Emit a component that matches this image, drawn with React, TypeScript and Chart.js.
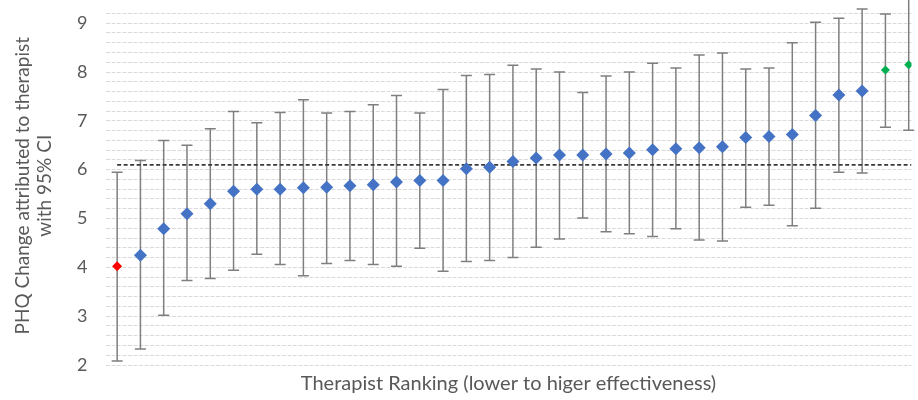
import React, { useEffect, useRef } from 'react';
import { Chart, registerables } from 'chart.js';

Chart.register(...registerables);

// Therapist rank (category position)
const ranks = [
  1, 2, 3, 4, 5, 6, 7, 8, 9, 10, 11, 12, 13, 14, 15, 16, 17, 18,
  19, 20, 21, 22, 23, 24, 25, 26, 27, 28, 29, 30, 31, 32, 33, 34, 35,
];

// PHQ change attributed to therapist (point estimate)
const means = [
  4.02, 4.25, 4.79, 5.1, 5.3, 5.56, 5.6, 5.6, 5.63, 5.64, 5.67, 5.69, 5.75,
  5.78, 5.78, 6.02, 6.05, 6.17, 6.24, 6.3, 6.3, 6.32, 6.34, 6.41, 6.43, 6.45,
  6.47, 6.66, 6.68, 6.72, 7.11, 7.53, 7.61, 8.04, 8.15,
];

// 95% CI upper bounds
const upperCI = [
  5.95, 6.19, 6.6, 6.5, 6.84, 7.19, 6.96, 7.17, 7.43, 7.16, 7.19, 7.33, 7.52,
  7.16, 7.64, 7.93, 7.95, 8.14, 8.06, 8.0, 7.58, 7.92, 8.0, 8.18, 8.08, 8.35,
  8.39, 8.06, 8.08, 8.6, 9.02, 9.1, 9.29, 9.19, 9.6,
];

// 95% CI lower bounds
const lowerCI = [
  2.08, 2.33, 3.02, 3.73, 3.77, 3.94, 4.27, 4.06, 3.83, 4.08, 4.14, 4.06, 4.02,
  4.39, 3.92, 4.12, 4.14, 4.2, 4.41, 4.58, 5.01, 4.73, 4.69, 4.63, 4.79, 4.56,
  4.54, 5.23, 5.27, 4.85, 5.21, 5.95, 5.93, 6.87, 6.81,
];

// Point category: 'low' = least effective, 'high' = most effective
const groups = [
  'low', 'mid', 'mid', 'mid', 'mid', 'mid', 'mid', 'mid', 'mid', 'mid', 'mid',
  'mid', 'mid', 'mid', 'mid', 'mid', 'mid', 'mid', 'mid', 'mid', 'mid', 'mid',
  'mid', 'mid', 'mid', 'mid', 'mid', 'mid', 'mid', 'mid', 'mid', 'mid', 'mid',
  'high', 'high',
];

const overallMean = 6.1;
const yTickLabels = ['2', '3', '4', '5', '6', '7', '8', '9'];

const yMin = 2;
const yMax = 9.342;
const xMin = 0.5;
const xMax = 35.12;
const gridStep = 0.2;

const groupColor: Record<string, string> = {
  low: '#FF0000',
  mid: '#4472C4',
  high: '#00B050',
};
const groupRadius: Record<string, number> = { low: 5, mid: 6.5, high: 4.5 };

const FONT = 'Lato, "Open Sans", sans-serif';
const TEXT = '#595959';

const errorBarPlugin = {
  id: 'errorBars',
  beforeDatasetsDraw(chart: any) {
    const { ctx, scales } = chart;
    const xs = scales.x;
    const ys = scales.y;
    const cap = 5.5;
    ctx.save();
    ctx.strokeStyle = '#7f7f7f';
    ctx.lineWidth = 1.5;
    ranks.forEach((r, i) => {
      const px = xs.getPixelForValue(r);
      const pTop = ys.getPixelForValue(upperCI[i]);
      const pBot = ys.getPixelForValue(lowerCI[i]);
      ctx.beginPath();
      ctx.moveTo(px, pTop);
      ctx.lineTo(px, pBot);
      ctx.moveTo(px - cap, pTop);
      ctx.lineTo(px + cap, pTop);
      ctx.moveTo(px - cap, pBot);
      ctx.lineTo(px + cap, pBot);
      ctx.stroke();
    });
    ctx.restore();
  },
};

export default function App() {
  const ref = useRef<HTMLCanvasElement | null>(null);

  useEffect(() => {
    document.body.style.margin = '0';
    const canvas = ref.current;
    if (!canvas) return;

    const gridValues: number[] = [];
    for (let k = 0; yMin + k * gridStep <= yMax + 1e-9; k++) {
      gridValues.push(Math.round((yMin + k * gridStep) * 10) / 10);
    }

    const chart = new Chart(canvas, {
      type: 'scatter',
      data: {
        datasets: [
          {
            type: 'scatter',
            label: 'Therapists',
            order: 1,
            data: ranks.map((r, i) => ({ x: r, y: means[i] })),
            pointStyle: 'rectRot',
            pointRadius: groups.map((g) => groupRadius[g]),
            pointBackgroundColor: groups.map((g) => groupColor[g]),
            pointBorderWidth: 0,
            pointBorderColor: groups.map((g) => groupColor[g]),
          } as any,
          {
            type: 'line',
            label: 'Mean',
            order: 2,
            data: [
              { x: ranks[0], y: overallMean },
              { x: xMax, y: overallMean },
            ],
            borderColor: '#3a3a3a',
            borderWidth: 1.8,
            borderDash: [4, 2.5],
            pointRadius: 0,
            showLine: true,
          } as any,
        ],
      },
      options: {
        responsive: false,
        animation: false,
        devicePixelRatio: 1,
        layout: { padding: 0 },
        plugins: {
          legend: { display: false },
          tooltip: { enabled: false },
        },
        scales: {
          x: {
            type: 'linear',
            min: xMin,
            max: xMax,
            ticks: { display: false },
            grid: { display: false },
            border: { display: false },
            title: {
              display: true,
              text: 'Therapist Ranking (lower to higer effectiveness)',
              color: TEXT,
              font: { family: FONT, size: 20 },
              padding: { top: 0, bottom: 4 },
            },
            afterFit: (s: any) => {
              s.height = 35;
            },
          },
          y: {
            type: 'linear',
            min: yMin,
            max: yMax,
            afterBuildTicks: (s: any) => {
              s.ticks = gridValues.map((v) => ({ value: v }));
            },
            ticks: {
              autoSkip: false,
              padding: 18,
              color: TEXT,
              font: { family: FONT, size: 18 },
              callback: (v: any) => {
                const n = Number(v);
                const lbl = String(Math.round(n));
                return Math.abs(n - Math.round(n)) < 1e-6 && yTickLabels.includes(lbl)
                  ? lbl
                  : '';
              },
            },
            grid: {
              color: '#dadada',
              lineWidth: 1,
              drawTicks: false,
            },
            border: { display: false, dash: [4, 1.5] },
            title: {
              display: true,
              text: ['PHQ Change attributed to therapist', 'with 95% CI'],
              color: TEXT,
              font: { family: FONT, size: 19, lineHeight: 1.2 },
              padding: { top: 11, bottom: 0 },
            },
            afterFit: (s: any) => {
              s.width = 105.5;
              s.paddingTop = 0;
              s.paddingBottom = 0;
            },
          },
        },
      },
      plugins: [errorBarPlugin],
    });

    return () => {
      chart.destroy();
    };
  }, []);

  return (
    <div style={{ position: 'absolute', left: 0, top: 0, width: 918, height: 400 }}>
      <canvas ref={ref} width={918} height={400} style={{ width: 918, height: 400 }} />
    </div>
  );
}
